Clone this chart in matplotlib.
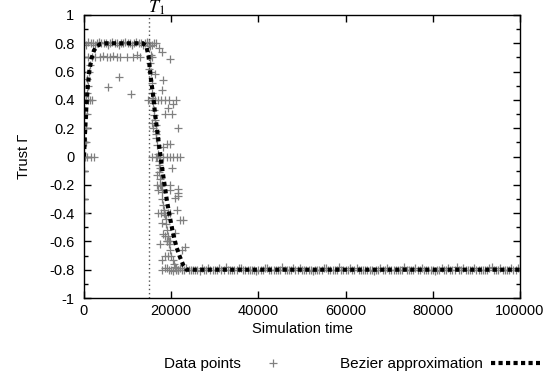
import matplotlib
matplotlib.use("Agg")
import matplotlib.pyplot as plt
from matplotlib.lines import Line2D
from matplotlib.ticker import MultipleLocator

plt.rcParams['font.family'] = ['Liberation Sans', 'DejaVu Sans']
plt.rcParams['font.size'] = 10.5
plt.rcParams['mathtext.fontset'] = 'stix'

# Scattered trust samples (rise, plateau outliers, fall)
scatter_t = [0, 0, 100, 0, 300, 800, 1500, 2200, 200, 400, 100, 500, 300, 700,
             0, 400, 900, 1300, 1800, 600, 1000, 700, 1100, 1300,
             900, 1800, 2500, 3700, 4400, 5300, 6000, 6700, 7600, 8300, 9900, 11200, 12200, 12800,
             8000, 5600, 10700,
             17200, 17900, 19700, 15600, 16300, 18200, 17900,
             14700, 15500, 16300, 17000, 17700, 18600, 19500, 21100,
             20400, 19300, 18600, 20200, 21600, 15600, 15800, 16600,
             19000, 18200, 19700,
             15600, 16600, 17400, 18200, 19000, 19700, 20400, 21300, 22000,
             17400, 20200, 16700, 17900, 19700, 21600, 20900,
             16700, 19700, 17000, 21600, 21600,
             17000, 17700, 18400, 19300, 19700, 21300,
             17900, 22700, 22000, 20900, 18600, 18100,
             19000, 19700, 17400, 23200, 22500, 18600, 19300, 17900]
scatter_y = [-0.4, -0.3, -0.1, 0.0, 0.0, 0.0, 0.0, 0.0, 0.1, 0.1, 0.2, 0.2, 0.3, 0.3,
             0.4, 0.4, 0.4, 0.4, 0.4, 0.45, 0.5, 0.55, 0.6, 0.65,
             0.7, 0.7, 0.7, 0.7, 0.71, 0.7, 0.7, 0.71, 0.7, 0.7, 0.7, 0.7, 0.72, 0.7,
             0.56, 0.49, 0.44,
             0.77, 0.74, 0.69, 0.7, 0.58, 0.54, 0.47,
             0.4, 0.4, 0.4, 0.4, 0.4, 0.4, 0.4, 0.4,
             0.37, 0.34, 0.3, 0.3, 0.2, 0.24, 0.2, 0.16,
             0.09, 0.07, 0.09,
             0.0, 0.0, 0.0, 0.0, 0.0, 0.0, 0.0, 0.0, 0.0,
             -0.08, -0.08, -0.13, -0.2, -0.24, -0.26, -0.29,
             -0.2, -0.2, -0.24, -0.28, -0.23,
             -0.4, -0.4, -0.4, -0.4, -0.4, -0.38,
             -0.47, -0.45, -0.45, -0.54, -0.56, -0.55,
             -0.6, -0.6, -0.62, -0.64, -0.66, -0.7, -0.7, -0.73]

# Denser samples hugging the drop after T1
drop_t = [14900, 15100, 15300, 15200, 15400, 15600, 15500, 15700, 15900, 16000,
          16100, 16200, 16400, 16500, 16600, 16800, 16900, 17100, 17200, 17300,
          17500, 17600, 17800, 18000, 18100, 18300, 18500, 18700, 18800, 19000,
          19200, 19400, 19600, 19800, 20000, 20300, 20600, 20900, 21200, 21500,
          15000, 15800, 16700, 17500, 18300, 19100]
drop_y = [0.8, 0.78, 0.72, 0.66, 0.6, 0.52, 0.45, 0.41, 0.38, 0.33,
          0.29, 0.26, 0.22, 0.18, 0.13, 0.08, 0.02, -0.03, -0.06, -0.11,
          -0.16, -0.21, -0.25, -0.3, -0.34, -0.38, -0.41, -0.44, -0.48, -0.52,
          -0.56, -0.6, -0.62, -0.66, -0.7, -0.73, -0.76, -0.78, -0.79, -0.8,
          0.62, 0.4, 0.0, -0.2, -0.4, -0.6]

# Dense plateau at +0.8 before T1
high_t = [0, 500, 1000, 1500, 2000, 2500, 3000, 3500, 4000, 4500, 5000, 5500,
          6000, 6500, 7000, 7500, 8000, 8500, 9000, 9500, 10000, 10500, 11000,
          11500, 12000, 12500, 13000, 13500, 14000, 14500, 15000, 15500, 16000, 16500]
high_y = [0.8, 0.79, 0.81, 0.8, 0.8, 0.79, 0.8, 0.81, 0.8, 0.8, 0.8, 0.79,
          0.8, 0.81, 0.8, 0.8, 0.79, 0.8, 0.8, 0.81, 0.8, 0.8, 0.79,
          0.8, 0.81, 0.8, 0.8, 0.79, 0.8, 0.81, 0.8, 0.79, 0.8, 0.8]

# Dense plateau at -0.8 after the drop
low_t = [18000, 19000, 20000, 21000, 22000, 23000, 24000, 25000, 26000, 27000,
         28000, 29000, 30000, 31000, 32000, 33000, 34000, 35000, 36000, 37000,
         38000, 39000, 40000, 41000, 42000, 43000, 44000, 45000, 46000, 47000,
         48000, 49000, 50000, 51000, 52000, 53000, 54000, 55000, 56000, 57000,
         58000, 59000, 60000, 61000, 62000, 63000, 64000, 65000, 66000, 67000,
         68000, 69000, 70000, 71000, 72000, 73000, 74000, 75000, 76000, 77000,
         78000, 79000, 80000, 81000, 82000, 83000, 84000, 85000, 86000, 87000,
         88000, 89000, 90000, 91000, 92000, 93000, 94000, 95000, 96000, 97000,
         98000, 99000, 100000]
low_y = [-0.8, -0.79, -0.8, -0.8, -0.79, -0.8, -0.8, -0.8, -0.8, -0.79,
         -0.8, -0.8, -0.8, -0.79, -0.8, -0.8, -0.8, -0.8, -0.79, -0.8,
         -0.8, -0.8, -0.8, -0.8, -0.79, -0.8, -0.8, -0.8, -0.8, -0.8,
         -0.79, -0.8, -0.8, -0.8, -0.8, -0.8, -0.8, -0.79, -0.8, -0.8,
         -0.8, -0.8, -0.8, -0.79, -0.8, -0.8, -0.8, -0.8, -0.8, -0.8,
         -0.79, -0.8, -0.8, -0.8, -0.8, -0.8, -0.8, -0.8, -0.79, -0.8,
         -0.8, -0.8, -0.8, -0.8, -0.79, -0.8, -0.8, -0.8, -0.8, -0.79,
         -0.8, -0.8, -0.8, -0.8, -0.8, -0.79, -0.8, -0.8, -0.8, -0.8,
         -0.79, -0.8, -0.8]
low2_t = [18500, 19500, 20500, 21500, 22500, 23500, 24500, 25500, 26500, 27500,
          28500, 29500, 30500, 31500, 32500, 33500, 34500, 35500, 36500, 37500,
          38500, 39500, 40500, 41500, 42500, 43500, 44500, 45500, 46500, 47500,
          48500, 49500, 50500, 51500, 52500, 53500, 54500, 55500, 56500, 57500,
          58500, 59500, 60500, 61500, 62500, 63500, 64500, 65500, 66500, 67500,
          68500, 69500, 70500, 71500, 72500, 73500, 74500, 75500, 76500, 77500,
          78500, 79500, 80500, 81500, 82500, 83500, 84500, 85500, 86500, 87500,
          88500, 89500, 90500, 91500, 92500, 93500, 94500, 95500, 96500, 97500,
          98500, 99500]
low2_y = [-0.79, -0.8, -0.81, -0.8, -0.8, -0.79, -0.8, -0.8, -0.81, -0.8,
          -0.79, -0.8, -0.8, -0.8, -0.78, -0.8, -0.8, -0.79, -0.8, -0.8,
          -0.8, -0.81, -0.8, -0.79, -0.8, -0.8, -0.8, -0.78, -0.8, -0.8,
          -0.8, -0.79, -0.8, -0.8, -0.81, -0.8, -0.8, -0.79, -0.8, -0.8,
          -0.78, -0.8, -0.8, -0.8, -0.79, -0.8, -0.8, -0.8, -0.81, -0.8,
          -0.8, -0.79, -0.8, -0.8, -0.8, -0.78, -0.8, -0.8, -0.8, -0.79,
          -0.8, -0.8, -0.81, -0.8, -0.8, -0.79, -0.8, -0.78, -0.8, -0.8,
          -0.8, -0.79, -0.8, -0.8, -0.8, -0.78, -0.8, -0.79, -0.8, -0.8,
          -0.8, -0.79]

# Bezier approximation
bez_t = [0, 200, 500, 800, 1200, 1700, 2300, 3000, 3800, 5000, 13500, 14300,
         14800, 15300, 15900, 16300, 16800, 17300, 18000, 19000, 19700, 20400,
         21200, 22000, 22800, 23500, 25000, 100000]
bez_y = [0, 0.15, 0.33, 0.47, 0.6, 0.69, 0.75, 0.78, 0.795, 0.8, 0.8, 0.78,
         0.71, 0.56, 0.42, 0.3, 0.18, 0.06, -0.1, -0.31, -0.43, -0.54,
         -0.64, -0.71, -0.77, -0.8, -0.8, -0.8]

T1 = 15000

fig = plt.figure(figsize=(5.58, 3.81), dpi=100)
ax = fig.add_axes([84 / 558, 1 - 298 / 381, 436 / 558, 283 / 381])

gray = '#808080'
pt_style = dict(linestyle='none', marker='+', color=gray, markersize=6, markeredgewidth=0.9)
ax.plot(high_t, high_y, **pt_style)
ax.plot(low_t, low_y, **pt_style)
ax.plot(low2_t, low2_y, **pt_style)
ax.plot(drop_t, drop_y, **pt_style)
ax.plot(scatter_t, scatter_y, **pt_style)

ax.axvline(T1, color='#555555', linestyle=(0, (1, 2)), linewidth=1)
ax.plot(bez_t, bez_y, color='black', linewidth=3, linestyle=(0, (1, 0.8)),
        dash_capstyle='butt', zorder=5)

ax.annotate(r'$T_1$', xy=(T1, 1), xycoords='data', xytext=(-1, -1.5),
            textcoords='offset points', ha='left', va='bottom', fontsize=13,
            annotation_clip=False)

ax.set_xlim(0, 100000)
ax.set_ylim(-1, 1)
ax.xaxis.set_major_locator(MultipleLocator(20000))
ax.yaxis.set_minor_locator(MultipleLocator(0.1))
ax.set_yticks([1, 0.8, 0.6, 0.4, 0.2, 0, -0.2, -0.4, -0.6, -0.8, -1])
ax.set_yticklabels(['1', '0.8', '0.6', '0.4', '0.2', '0', '-0.2', '-0.4', '-0.6', '-0.8', '-1'])
ax.tick_params(which='both', direction='in', top=True, right=True)
ax.tick_params(which='major', length=5, width=1)
ax.tick_params(which='minor', length=3, width=1)
ax.tick_params(axis='y', pad=7)
ax.tick_params(axis='x', pad=4)
for s in ax.spines.values():
    s.set_linewidth(1)

ax.set_xlabel('Simulation time', labelpad=3)
ax.set_ylabel('Trust \u0393', labelpad=13)

handles = [Line2D([], [], **pt_style),
           Line2D([], [], color='black', linewidth=3, linestyle=(0, (1, 0.8)),
                  dash_capstyle='butt')]
fig.legend(handles, ['Data points', 'Bezier approximation'], ncol=2,
           loc='center', bbox_to_anchor=(352 / 558, 1 - 364 / 381),
           frameon=False, markerfirst=False, handlelength=3.2, fontsize=11,
           handletextpad=0.5, columnspacing=2.8)

fig.savefig('out.png', dpi=100)
